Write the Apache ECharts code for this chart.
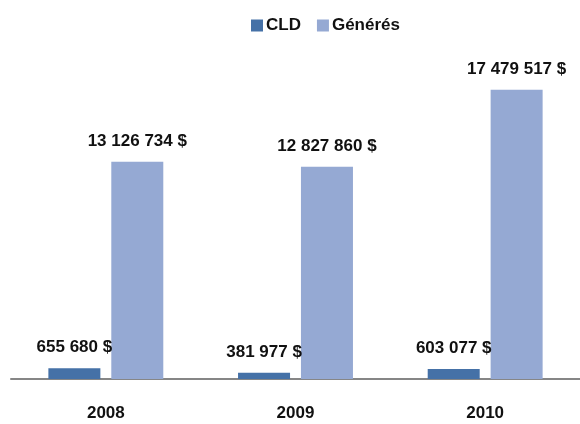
<!DOCTYPE html>
<html>
<head>
<meta charset="utf-8">
<script src="https://cdn.jsdelivr.net/npm/echarts@6/dist/echarts.min.js"></script>
<style>
body{margin:0;background:#fff;}
#chart{width:580px;height:424px;}
</style>
</head>
<body>
<div id="chart"></div>
<script>
var years = ['2008', '2009', '2010'];
var cld = [655680, 381977, 603077];
var generes = [13126734, 12827860, 17479517];

function fmt(v){
	return String(v).replace(/\B(?=(\d{3})+(?!\d))/g, ' ') + ' $';
}

var myChart = echarts.init(document.getElementById('chart'));
var lbl = {
	show: true,
	position: 'top',
	distance: 12,
	color: '#111',
	fontFamily: 'Liberation Sans',
	fontWeight: 'bold',
	fontSize: 17,
	formatter: function(p){ return fmt(p.value); }
};
myChart.setOption({
	animation: false,
	legend: {
		top: 12,
		left: 246,
		itemWidth: 12,
		itemHeight: 12,
		itemGap: 16,
		icon: 'rect',
		textStyle: {color: '#111', fontFamily: 'Liberation Sans', fontWeight: 'bold', fontSize: 17, padding: [0, 0, 0, -2]},
		data: ['CLD', 'Générés']
	},
	grid: {left: 11, right: 0, top: 48, bottom: 45},
	xAxis: {
		type: 'category',
		data: years,
		axisLine: {lineStyle: {color: '#868686', width: 2}},
		axisTick: {show: false},
		axisLabel: {margin: 26, color: '#111', fontFamily: 'Liberation Sans', fontWeight: 'bold', fontSize: 17}
	},
	yAxis: {
		type: 'value',
		min: 0,
		max: 20000000,
		show: false,
		splitLine: {show: false}
	},
	series: [
		{name: 'CLD', type: 'bar', data: cld, barWidth: 52, barGap: '21%',
		 itemStyle: {color: '#4571A7'}, label: lbl},
		{name: 'Générés', type: 'bar', data: generes, barWidth: 52,
		 itemStyle: {color: '#95A9D3'}, label: lbl}
	]
});
</script>
</body>
</html>
